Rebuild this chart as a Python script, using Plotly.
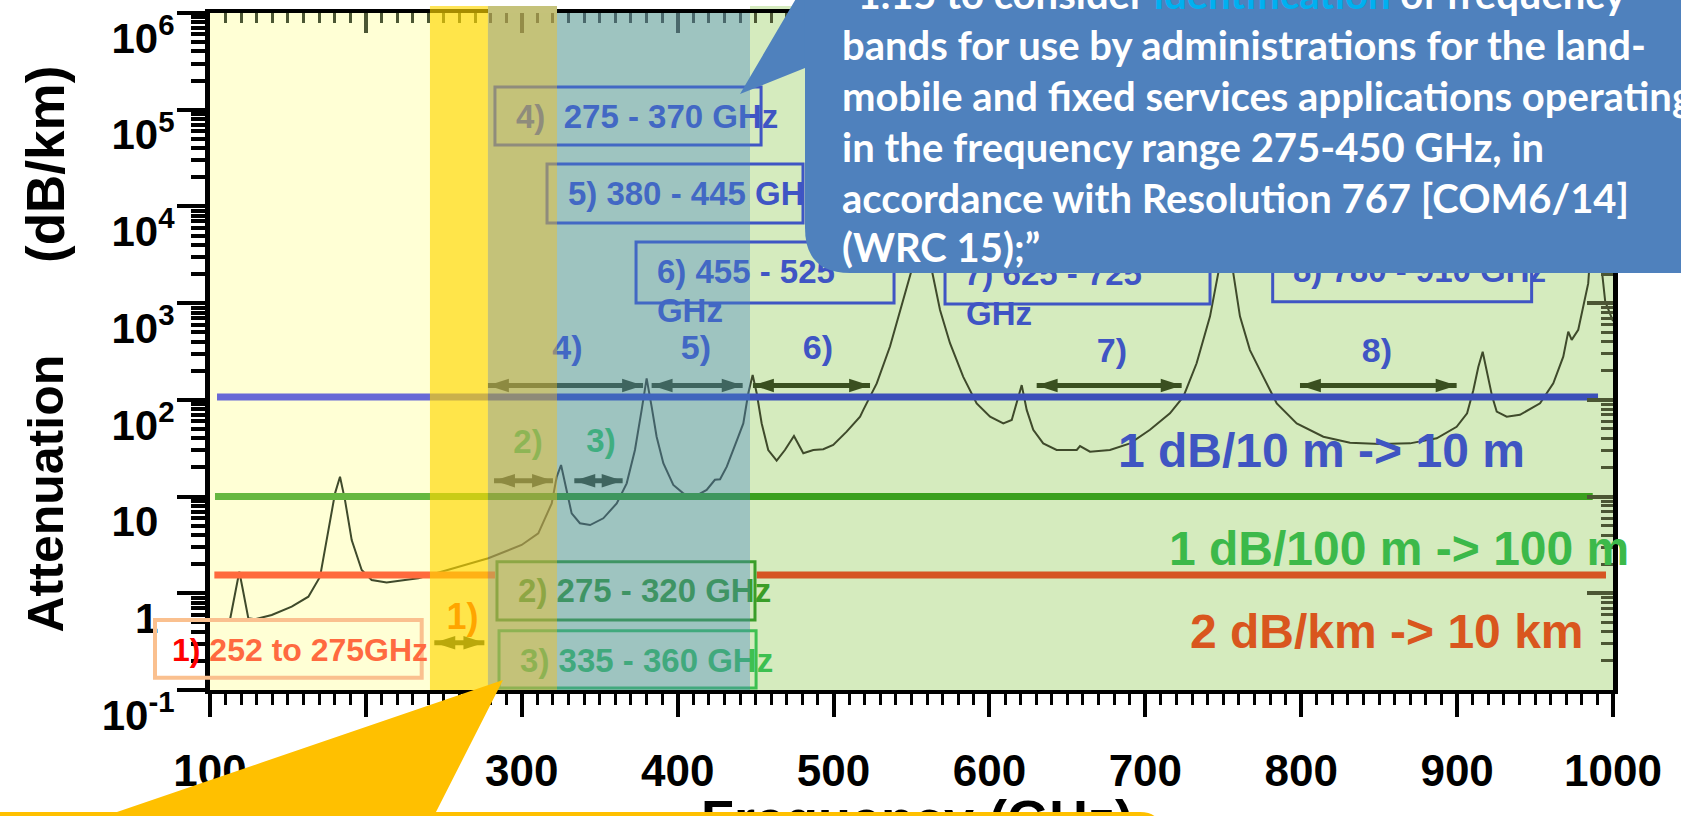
import plotly.graph_objects as go

# ---------------- data ----------------
# atmospheric attenuation curve (frequency in GHz, attenuation in dB/km)
freq_ghz = [112.8, 117.1, 118.8, 120.7, 124.6, 128.9, 139.6, 152.4, 163.1, 170.6,
            175.9, 180.2, 183.4, 186.6, 190.9, 197.3, 203.7, 213.3, 225.1, 233.6,
            250.7, 259.3, 278.5, 299.9, 310.6, 319.2, 322.4, 325.2, 328.8, 332.0,
            337.3, 343.8, 352.3, 360.9, 367.3, 372.6, 376.9, 380.1, 383.3, 386.5,
            390.8, 397.2, 403.6, 410.0, 418.6, 423.9, 427.2, 431.5, 438.9, 442.1,
            445.3, 448.1, 450.7, 453.9, 458.1, 463.5, 468.8, 474.6, 480.6, 487.0,
            493.4, 499.8, 508.4, 517.0, 519.1, 527.7, 536.2, 544.7, 550.1, 553.5,
            556.9, 560.3, 563.0, 568.3, 574.7, 583.2, 591.8, 600.4, 608.9, 614.3,
            617.5, 620.7, 623.9, 628.1, 634.5, 643.1, 656.0, 658.1, 664.5, 677.3,
            690.2, 703.0, 715.8, 724.4, 732.9, 741.5, 746.8, 749.5, 751.8, 754.0,
            756.4, 760.7, 767.1, 775.7, 784.3, 797.1, 814.2, 831.3, 850.5, 869.8,
            886.9, 899.7, 906.4, 910.4, 913.6, 916.4, 919.0, 922.5, 925.4, 931.8,
            940.3, 953.2, 961.7, 968.1, 971.3, 973.5, 977.7, 980.9, 984.1, 987.9,
            992.7, 995.0, 1000.0]
atten_db_km = [0.53, 1.27, 1.67, 1.17, 0.551, 0.538, 0.597, 0.727, 0.922, 1.485,
               4.51, 10.8, 16.0, 9.2, 3.55, 1.74, 1.37, 1.29, 1.37, 1.43,
               1.71, 1.88, 2.30, 3.16, 4.17, 8.5, 16.0, 21.2, 11.7, 6.7,
               5.3, 5.08, 5.96, 8.5, 13.7, 30.3, 78.7, 167, 85, 41.6,
               22.1, 13.2, 10.8, 9.8, 11.7, 14.9, 15.1, 20.4, 41.6, 57,
               117, 181, 117, 57, 30.3, 23.5, 30.3, 42.3, 28, 30.3,
               30.9, 34.2, 46.9, 67, 78.7, 148, 356, 1080, 2200, 9000,
               40000, 9000, 2200, 850, 385, 173, 92, 67, 57, 62,
               92, 142, 78.7, 49, 35.5, 30.3, 30.3, 33.3, 29.1, 30.3,
               35.5, 49, 72.6, 108, 239, 730, 2050, 8000, 30000, 8000,
               2050, 730, 327, 173, 92, 57, 41.6, 36.0, 35, 35.5,
               40, 52.7, 72.6, 126, 219, 314, 204, 108, 75.5, 67,
               70, 92, 148, 280, 507, 417, 530, 920, 1600, 12000,
               2050, 1040, 650]

# horizontal reference levels (dB/km, as drawn) and their spans (GHz)
level_labels = ['1 dB/10 m -> 10 m', '1 dB/100 m -> 100 m', '2 dB/km -> 10 km']
level_values = [107, 10, 1.55]
level_left_span = [(104.5, 278.3), (103.2, 278.3), (102.8, 282.8)]
level_right_span = [(278.3, 990.4), (278.3, 987.0), (450.7, 995.5)]

# band ranges shown by double arrows (GHz) and the level they sit at (dB/km)
band_ids = ['1)', '2)', '3)', '4)', '5)', '6)', '7)', '8)']
band_start = [243.9, 282.2, 333.7, 278.3, 383.3, 448.3, 630.3, 799.2]
band_end = [276.0, 320.0, 364.7, 377.8, 441.7, 523.4, 723.3, 899.7]
band_level = [0.308, 14.6, 14.6, 141, 141, 141, 141, 141]
band_id_x = [262.0, 304.0, 350.8, 329.3, 411.7, 490.0, 678.6, 848.6]
band_id_y = [0.535, 34.5, 35.3, 323, 323, 323, 301, 301]

# boxed band descriptions
box_texts = ['2) 275 - 320 GHz', '3) 335 - 360 GHz', '4)\u00a0\u00a0275 - 370 GHz',
             '5) 380 - 445 GHz', '6) 455 - 525', 'GHz', '7) 625 - 725', 'GHz',
             '8) 780 - 910 GHz']
box_text_x = [297.6, 298.9, 296.3, 329.6, 386.7, 386.7, 583.7, 585.0, 794.7]
box_text_y = [1.0, 0.188, 78700, 12590, 1965, 776, 1874, 723, 2013]
box_x0 = [284.1, 285.4, 282.8, 316.2, 373.3, 571.5, 781.7]
box_x1 = [449.6, 450.3, 453.5, 480.4, 538.8, 741.5, 947.8]
box_y0 = [0.530, 0.105, 4.32e4, 6745, 1004, 980, 1035]
box_y1 = [2.12, 0.411, 1.72e5, 2.75e4, 4290, 4290, 4290]

# shaded frequency regions (GHz)
region_edges = [100, 241.1, 278.3, 322.6, 446.4, 1000]

# y-axis tick labels
y_tickvals = [0.1, 1, 10, 100, 1e3, 1e4, 1e5, 1e6]
y_ticktext = ['10<sup>-1</sup>', '1<sup>\u00a0\u00a0</sup>', '10<sup>\u00a0\u00a0</sup>',
              '10<sup>2</sup>', '10<sup>3</sup>', '10<sup>4</sup>', '10<sup>5</sup>',
              '10<sup>6</sup>']

callout_lines = [
    '\u201c1.15 to consider <span style="color:#00B0F0">identification</span> of frequency',
    'bands for use by administrations for the land-',
    'mobile and fixed services applications operating',
    'in the frequency range 275-450 GHz, in',
    'accordance with Resolution 767 [COM6/14]',
    '(WRC 15);\u201d',
]

# ---------------- layout helpers (pixel -> paper) ----------------
L, T, W, H = 210, 13, 1403, 677


def pxx(p):
    return (p - L) / W


def pxy(p):
    return (T + H - p) / H


def P(x, y):
    return f"{pxx(x):.5f},{pxy(y):.5f}"


ARIAL = 'Liberation Sans, Arial, sans-serif'
BLUE = '#3f55c4'
ARROW = '#3a5020'

fig = go.Figure()

# attenuation curve
fig.add_trace(go.Scatter(x=freq_ghz, y=atten_db_km, mode='lines',
                         line=dict(color='#3f4a2b', width=2), hoverinfo='skip'))

# reference levels
left_cols = ['#6869d6', '#66b840', '#ff6a3c']
right_cols = ['#3c50b9', '#3aa01e', '#d65424']
for v, ls, rs, lc, rc in zip(level_values, level_left_span, level_right_span, left_cols, right_cols):
    fig.add_trace(go.Scatter(x=list(ls), y=[v, v], mode='lines',
                             line=dict(color=lc, width=7), hoverinfo='skip'))
    fig.add_trace(go.Scatter(x=list(rs), y=[v, v], mode='lines',
                             line=dict(color=rc, width=7), hoverinfo='skip'))

# band arrows
for s, e, lv in zip(band_start, band_end, band_level):
    fig.add_trace(go.Scatter(x=[s, e], y=[lv, lv], mode='lines+markers',
                             line=dict(color=ARROW, width=5),
                             marker=dict(symbol='arrow', size=22, angle=[-90, 90],
                                         color=ARROW, line=dict(width=0)),
                             hoverinfo='skip'))

# band id labels above arrows
id_cols = ['#ff4800', '#3cc858', '#3cc858', BLUE, BLUE, BLUE, BLUE, BLUE]
id_sizes = [36, 33, 33, 34, 34, 34, 34, 34]
for t, x, y, c, s in zip(band_ids, band_id_x, band_id_y, id_cols, id_sizes):
    fig.add_trace(go.Scatter(x=[x], y=[y], mode='text', text=[t], textposition='middle center',
                             textfont=dict(family=ARIAL, size=s, color=c, weight='bold'),
                             hoverinfo='skip', cliponaxis=False))

# box texts
box_cols = ['#3a9e28', '#3dc050'] + [BLUE] * 7
fig.add_trace(go.Scatter(x=box_text_x, y=box_text_y, mode='text', text=box_texts,
                         textposition='middle right',
                         textfont=dict(family=ARIAL, size=33, color=box_cols, weight='bold'),
                         hoverinfo='skip', cliponaxis=False))

# dummy trace for the mirrored (inside) tick axes
fig.add_trace(go.Scatter(x=[500], y=[1], xaxis='x2', yaxis='y2', mode='markers',
                         marker=dict(opacity=0), hoverinfo='skip'))

shapes = []
# base backgrounds
shapes.append(dict(type='rect', xref='x', yref='paper', x0=region_edges[0], x1=region_edges[2],
                   y0=0, y1=1, fillcolor='#ffffd5', line=dict(width=0), layer='below'))
shapes.append(dict(type='rect', xref='x', yref='paper', x0=region_edges[2], x1=region_edges[5],
                   y0=0, y1=1, fillcolor='#d5ebbe', line=dict(width=0), layer='below'))
# small overhang of the green panel above the frame
shapes.append(dict(type='rect', xref='x', yref='paper', x0=region_edges[4], x1=region_edges[5],
                   y0=pxy(11), y1=pxy(6), fillcolor='#d5ebbe', line=dict(width=0), layer='below'))
# box outlines
shapes.append(dict(type='rect', xref='paper', yref='y', x0=pxx(155), x1=pxx(421.7),
                   y0=0.1335, y1=0.530, line=dict(color='#fac08f', width=4),
                   fillcolor='rgba(0,0,0,0)', layer='above'))
box_line_cols = ['#3a9e28', '#3dc050', BLUE, BLUE, BLUE, BLUE, BLUE]
for x0, x1, y0, y1, c in zip(box_x0, box_x1, box_y0, box_y1, box_line_cols):
    shapes.append(dict(type='rect', xref='x', yref='y', x0=x0, x1=x1, y0=y0, y1=y1,
                       line=dict(color=c, width=3), fillcolor='rgba(0,0,0,0)', layer='above'))
# translucent overlays
shapes.append(dict(type='rect', xref='x', yref='paper', x0=region_edges[1], x1=region_edges[2],
                   y0=0, y1=pxy(6), fillcolor='rgba(255,215,0,0.65)', line=dict(width=0), layer='above'))
shapes.append(dict(type='rect', xref='x', yref='paper', x0=region_edges[2], x1=region_edges[4],
                   y0=0, y1=1, fillcolor='rgba(72,135,195,0.39)', line=dict(width=0), layer='above'))
shapes.append(dict(type='rect', xref='x', yref='paper', x0=region_edges[2], x1=region_edges[3],
                   y0=0, y1=1, fillcolor='rgba(251,191,25,0.42)', line=dict(width=0), layer='above'))
shapes.append(dict(type='rect', xref='x', yref='paper', x0=region_edges[2], x1=region_edges[3],
                   y0=1, y1=pxy(6), fillcolor='#c5c27a', line=dict(width=0), layer='above'))
# x-axis title (under the yellow callout)
shapes.append(dict(type='rect', xref='paper', yref='paper', x0=pxx(600), x1=pxx(1234),
                   y0=pxy(900), y1=pxy(784), line=dict(width=0), fillcolor='rgba(0,0,0,0)',
                   layer='above',
                   label=dict(text='<b>Frequency (GHz)</b>', textposition='top center', padding=0,
                              font=dict(family=ARIAL, size=54, color='black'))))
# yellow callout
shapes.append(dict(type='path', xref='paper', yref='paper', layer='above',
                   path=(f"M {P(-20, 830)} L {P(-20, 812)} L {P(117, 812)} L {P(503, 680)} "
                         f"L {P(436, 812)} L {P(1140, 812)} Q {P(1160, 812)} {P(1160, 830)} Z"),
                   fillcolor='#ffc000', line=dict(width=0)))
# blue callout: pointer + rounded box
shapes.append(dict(type='path', xref='paper', yref='paper', layer='above',
                   path=f"M {P(740, 94)} L {P(804, -15)} L {P(820, -15)} L {P(820, 67)} L {P(805, 68)} Z",
                   fillcolor='#4f81bd', line=dict(width=0)))
shapes.append(dict(type='path', xref='paper', yref='paper', layer='above',
                   path=(f"M {P(805, -20)} L {P(1700, -20)} L {P(1700, 273)} "
                         f"L {P(850, 273)} Q {P(805, 273)} {P(805, 228)} Z"),
                   fillcolor='#4f81bd', line=dict(width=0)))

annotations = []
# y-axis title
annotations.append(dict(xref='paper', yref='paper', x=pxx(45), y=pxy(493.5), text='<b>Attenuation</b>',
                        textangle=-90, showarrow=False, xanchor='center', yanchor='middle',
                        font=dict(family=ARIAL, size=50, color='black')))
annotations.append(dict(xref='paper', yref='paper', x=pxx(45), y=pxy(165), text='<b>(dB/km)</b>',
                        textangle=-90, showarrow=False, xanchor='center', yanchor='middle',
                        font=dict(family=ARIAL, size=53, color='black')))
# box 1 text
annotations.append(dict(xref='paper', yref='paper', x=pxx(170), y=pxy(650), xanchor='left',
                        yanchor='middle', showarrow=False,
                        text='<b><span style="color:#ff0000">1)</span> 252 to 275GHz</b>',
                        font=dict(family=ARIAL, size=32, color='#ff6a40')))
# level labels
lvl_right = [1527, 1631, 1586]
lvl_cy = [450.5, 548, 631]
lvl_cols = ['#3f55c2', '#3cb94a', '#d9561e']
for t, r, cy, c in zip(level_labels, lvl_right, lvl_cy, lvl_cols):
    annotations.append(dict(xref='paper', yref='paper', x=pxx(r), y=pxy(cy), xanchor='right',
                            yanchor='middle', showarrow=False, text=f'<b>{t}</b>',
                            font=dict(family=ARIAL, size=48, color=c)))
# callout text
CFS = 40
baselines = [9, 60, 111, 162, 213, 262]
for t, b in zip(callout_lines, baselines):
    annotations.append(dict(xref='paper', yref='paper', x=pxx(840), y=pxy(b - 0.387 * CFS),
                            xanchor='left', yanchor='middle', showarrow=False, text=f'<b>{t}</b>',
                            font=dict(family='Lato, Carlito, Calibri, sans-serif', size=CFS,
                                      color='white')))

TICKC = '#4c5634'
fig.update_layout(
    width=1681, height=816, margin=dict(l=L, r=1681 - L - W, t=T, b=816 - T - H),
    paper_bgcolor='white', plot_bgcolor='white', showlegend=False,
    shapes=shapes, annotations=annotations,
    xaxis=dict(range=[100, 1000], dtick=100, tick0=0, ticks='outside', ticklen=23, tickwidth=3.5,
               tickcolor='black', showline=True, linewidth=4, linecolor='black', mirror=True,
               showgrid=False, zeroline=False, ticklabelstandoff=16, automargin=False,
               ticklabeloverflow='allow',
               tickfont=dict(family=ARIAL, size=44, color='black', weight='bold'),
               minor=dict(ticks='outside', ticklen=11, tickwidth=3, tickcolor='black', dtick=10,
                          showgrid=False)),
    yaxis=dict(type='log', range=[-1, 6], tickmode='array', tickvals=y_tickvals,
               ticktext=y_ticktext, ticks='outside',
               ticklen=28, tickwidth=4, tickcolor='black', showline=True, linewidth=5,
               linecolor='black', mirror=True, showgrid=False, zeroline=False,
               ticklabelshift=25, ticklabelstandoff=-6, automargin=False,
               ticklabeloverflow='allow',
               tickfont=dict(family=ARIAL, size=42, color='black', weight='bold'),
               minor=dict(ticks='outside', ticklen=14, tickwidth=3.5, tickcolor='black',
                          dtick='D1', showgrid=False)),
    xaxis2=dict(overlaying='x', side='top', anchor='y', range=[100, 1000], dtick=100, tick0=0,
                ticks='inside', ticklen=20, tickwidth=3.5, tickcolor=TICKC, showline=False,
                showgrid=False, zeroline=False, showticklabels=False, automargin=False,
                minor=dict(ticks='inside', ticklen=10, tickwidth=3, tickcolor=TICKC, dtick=10,
                           showgrid=False)),
    yaxis2=dict(overlaying='y', side='right', anchor='x', type='log', range=[-1, 6], dtick=1,
                ticks='inside', ticklen=26, tickwidth=3.5, tickcolor=TICKC, showline=False,
                showgrid=False, zeroline=False, showticklabels=False, automargin=False,
                minor=dict(ticks='inside', ticklen=12, tickwidth=3, tickcolor=TICKC, dtick='D1',
                           showgrid=False)),
)

fig.write_html("out.html", config={'displayModeBar': False},
               post_script="document.body.style.margin='0';document.body.style.overflow='hidden';")
